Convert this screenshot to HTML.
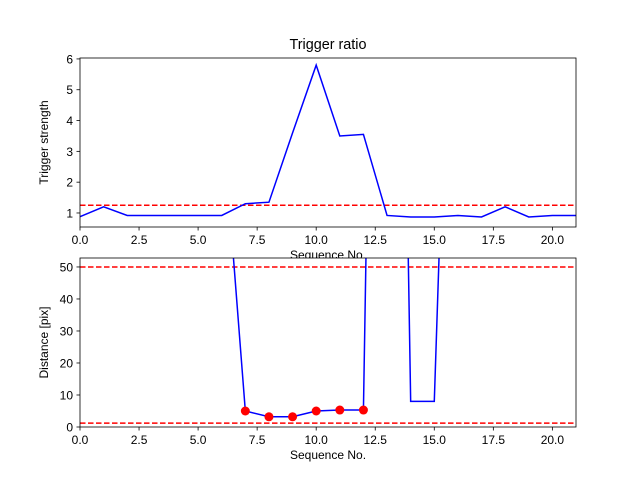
<!DOCTYPE html>
<html><head><meta charset="utf-8"><style>body{margin:0;background:#fff}svg{display:block;font-family:"Liberation Sans","DejaVu Sans",sans-serif}</style></head>
<body>
<svg id="c" width="640" height="480" viewBox="0 0 640 480"></svg>
<script>
const seq = [0,1,2,3,4,5,6,7,8,9,10,11,12,13,14,15,16,17,18,19,20,21];
const strength = [0.88,1.2,0.92,0.92,0.92,0.92,0.92,1.3,1.35,3.6,5.8,3.5,3.55,0.92,0.87,0.87,0.92,0.87,1.2,0.87,0.92,0.92];
const strengthThreshold = 1.25;
const distance = [500,500,500,500,500,500,100,5,3.2,3.2,5,5.3,5.3,450,8,8,232,500,500,500,500,500];
const markerIdx = [7,8,9,10,11,12];
const distLines = [50,1.2];
const xTicks = [0,2.5,5,7.5,10,12.5,15,17.5,20];
const yTicksTop = [1,2,3,4,5,6];
const yTicksBot = [0,10,20,30,40,50];

const NS='http://www.w3.org/2000/svg', svg=document.getElementById('c');
function mk(t,a,p){const e=document.createElementNS(NS,t);for(const k in a)e.setAttribute(k,a[k]);(p||svg).appendChild(e);return e;}
function axes(top,bot,ymin,ymax,yTicks,vals,thr,ylabel,name,markers){
  const L=80,R=576,xs=v=>L+(v-0)/21*(R-L),ys=v=>bot-(v-ymin)/(ymax-ymin)*(bot-top);
  const g=mk('g',{});
  
  
  mk('rect',{x:L,y:top,width:R-L,height:bot-top,fill:'#fff'},g);
  const cp='cp'+name;const d=mk('clipPath',{id:cp},g);mk('rect',{x:L,y:top,width:R-L,height:bot-top},d);
  const pg=mk('g',{'clip-path':'url(#'+cp+')'},g);
  thr.forEach(t=>{const l=mk('line',{x1:L,x2:R,y1:ys(t),y2:ys(t),stroke:'red','stroke-width':1.5,'stroke-dasharray':'5.5,2.5'},pg);
    });
  const p=mk('polyline',{points:seq.map((s,i)=>xs(s)+','+ys(vals[i])).join(' '),fill:'none',stroke:'blue','stroke-width':1.5},pg);
  
  (markers||[]).forEach(i=>{const c=mk('circle',{cx:xs(seq[i]),cy:ys(vals[i]),r:4.5,fill:'red'},pg);
    });
  mk('rect',{x:L,y:top,width:R-L,height:bot-top,fill:'none',stroke:'#000','stroke-width':0.8},g);
  xTicks.forEach(t=>{mk('line',{x1:xs(t),x2:xs(t),y1:bot,y2:bot+3.5,stroke:'#000','stroke-width':0.8},g);
    const tx=mk('text',{x:xs(t),y:bot+17,'font-size':12,'text-anchor':'middle'},g);tx.textContent=t.toFixed(1);
    });
  yTicks.forEach(t=>{mk('line',{x1:L-3.5,x2:L,y1:ys(t),y2:ys(t),stroke:'#000','stroke-width':0.8},g);
    const tx=mk('text',{x:L-7,y:ys(t)+4.5,'font-size':12,'text-anchor':'end'},g);tx.textContent=t;
    });
  const yl=mk('text',{x:0,y:0,'font-size':12,'text-anchor':'middle',transform:`translate(${L-32},${(top+bot)/2}) rotate(-90)`},g);yl.textContent=ylabel;
  
  const xl=mk('text',{x:(L+R)/2,y:bot+32,'font-size':12,'text-anchor':'middle'},g);xl.textContent='Sequence No.';
  
}
const ti=mk('text',{x:328,y:49,'font-size':14.4,'text-anchor':'middle'});ti.textContent='Trigger ratio';

axes(58,227,0.545,6.03,yTicksTop,strength,[strengthThreshold],'Trigger strength','top-axes');
axes(258,427,0,52.8,yTicksBot,distance,distLines,'Distance [pix]','bottom-axes',markerIdx);
</script>
</body></html>
